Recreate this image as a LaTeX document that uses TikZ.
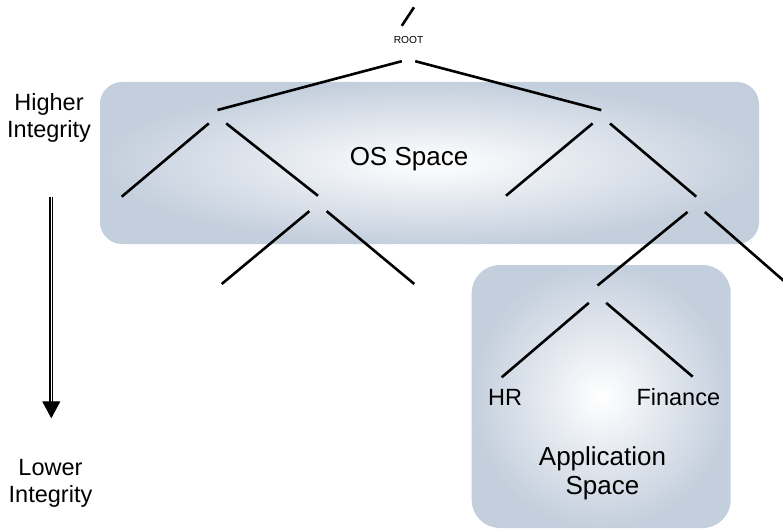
\documentclass[tikz,border=0pt]{standalone}
\usepackage{fontspec}
\setmainfont{Liberation Sans}
\usetikzlibrary{arrows.meta}
\definecolor{Space}{RGB}{196,207,221}

\begin{document}
\begin{tikzpicture}[x=1pt, y=-1pt,
        branch/.style={line width=2.6pt},
        joint/.style={inner sep=0pt, minimum width=17pt, minimum height=13pt},
        space/.style={rounded corners=#1, inner color=white, outer color=Space},
        words/.style={font=\fontsize{23.5}{27}\selectfont, align=center, inner sep=0pt},
        bigwords/.style={words, font=\fontsize{26}{29.5}\selectfont}]

        % Fix the size of the picture
        \useasboundingbox (0,0) rectangle (783,529);

        % Draw the two spaces
        \shade[space=22pt] (100,82) rectangle (759,244);
        \shade[space=28pt] (471.7,265) rectangle (730.7,528);
        \node[bigwords, anchor=base] (os) at (409,165.5) {OS Space};
        \node[bigwords] (app) at (602.5,473.5) {Application\\Space};

        % Joints of the tree
        \node[joint, minimum width=13pt, text height=18pt, text depth=17pt,
            font=\fontsize{10.2}{12}\selectfont] (root) at (408.5,43.5) {\makebox[0pt]{ROOT}};
        \node[joint] (a) at (217.5,116.7) {};
        \node[joint] (b) at (601.3,116.8) {};
        \node[joint, minimum height=15pt] (c) at (318,203.5) {};
        \node[joint, minimum height=15pt] (d) at (696.2,204.3) {};
        \node[joint, minimum height=17pt] (e) at (597.5,294.2) {};

        % Free ends of the branches
        \coordinate (up) at (414,7.3);
        \coordinate (aleft) at (121.7,196.7);
        \coordinate (bleft) at (506,195.7);
        \coordinate (cleft) at (221.7,284);
        \coordinate (cright) at (414.3,284);
        \coordinate (dright) at (800,295);
        \coordinate (hrend) at (501.7,377.3);
        \coordinate (finend) at (692.7,376.7);

        % Draw the branches
        \foreach \from/\to in {root.north west/up, root.south west/a.north, root.south east/b.north,
                a.south west/aleft, a.south east/c.north, b.south west/bleft, b.south east/d.north,
                c.south west/cleft, c.south east/cright, d.south west/e.north, d.south east/dright,
                e.south west/hrend, e.south east/finend} {
            \draw[branch] (\from) -- (\to);
        }

        % Leaf labels
        \node[words, anchor=base] (hr) at (505,405.5) {HR};
        \node[words, anchor=base] (fin) at (678.3,405.5) {Finance};

        % Integrity scale
        \node[words] (high) at (49,117.9) {Higher\\Integrity};
        \node[words] (low) at (50.5,483) {Lower\\Integrity};
        \coordinate (arrtop) at (51.3,197.3);
        \coordinate (arrtip) at (51.3,418.3);
        \draw[double, double distance=1.6pt, line width=1.1pt,
            -{Triangle[width=18pt,length=17pt]}] (arrtop) -- (arrtip);
    \end{tikzpicture}
\end{document}
